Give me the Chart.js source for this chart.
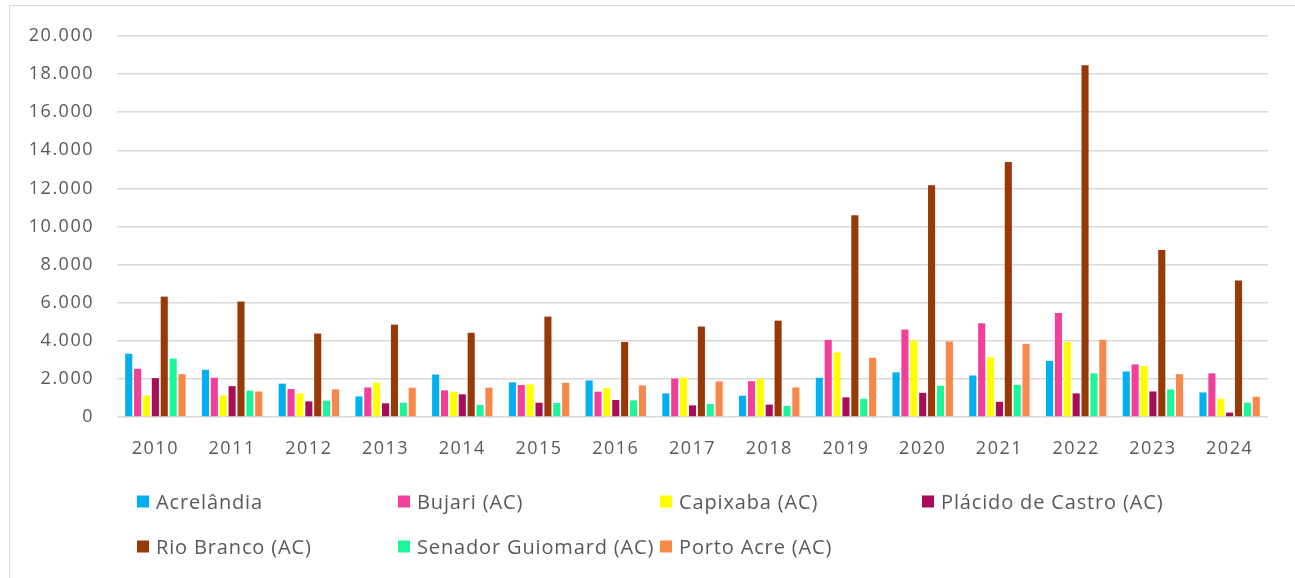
<!DOCTYPE html>
<html>
<head>
<meta charset="utf-8">
<script src="https://cdn.jsdelivr.net/npm/chart.js@4.4.1/dist/chart.umd.min.js"></script>
<style>
  html, body { margin: 0; padding: 0; background: #fff; width: 1295px; height: 578px; overflow: hidden; }
  #frame { position: absolute; left: 9px; top: 5px; width: 1400px; height: 700px;
           border-left: 1.5px solid #d9d9d9; border-top: 1.5px solid #d9d9d9; }
  #chart { position: absolute; left: 0; top: 0; }
  #legend { position: absolute; left: 0; top: 0; width: 1295px; height: 578px; pointer-events: none;
            font-family: "Open Sans", sans-serif; font-size: 20px; letter-spacing: 0.85px; color: #595959; }
  .li { position: absolute; display: flex; align-items: center; white-space: nowrap; transform: translateY(-50%); }
  .li .box { width: 12px; height: 12px; margin-right: 7px; flex: none; }
</style>
</head>
<body>
<div id="frame"></div>
<canvas id="chart" width="1295" height="471"></canvas>
<div id="legend"></div>
<script>
const years = ['2010','2011','2012','2013','2014','2015','2016','2017','2018','2019','2020','2021','2022','2023','2024'];
const yTickLabels = ['0','2.000','4.000','6.000','8.000','10.000','12.000','14.000','16.000','18.000','20.000'];

const seriesNames = ['Acrelândia','Bujari (AC)','Capixaba (AC)','Plácido de Castro (AC)','Rio Branco (AC)','Senador Guiomard (AC)','Porto Acre (AC)'];
const seriesColors = ['#00B0F0','#F2409A','#FFFF00','#A80D58','#983A08','#1DF59A','#F7884A'];

const acrelandia       = [3320,2480,1750,1080,2230,1820,1920,1240,1120,2060,2340,2180,2950,2390,1290];
const bujari           = [2530,2060,1470,1550,1400,1680,1330,2020,1880,4050,4590,4920,5460,2760,2290];
const capixaba         = [1130,1130,1240,1800,1330,1710,1520,2060,1990,3390,4010,3140,3940,2670,960];
const placidoDeCastro  = [2040,1620,820,720,1190,750,890,610,650,1030,1270,800,1240,1340,230];
const rioBranco        = [6320,6060,4380,4850,4420,5270,3940,4750,5060,10590,12160,13390,18460,8760,7160];
const senadorGuiomard  = [3070,1380,860,750,630,730,870,680,590,960,1640,1690,2290,1450,750];
const portoAcre        = [2250,1340,1450,1540,1540,1800,1660,1870,1550,3110,3960,3840,4050,2250,1060];

const seriesValues = [acrelandia, bujari, capixaba, placidoDeCastro, rioBranco, senadorGuiomard, portoAcre];

const datasets = seriesNames.map((name, i) => ({
  label: name,
  data: seriesValues[i],
  backgroundColor: seriesColors[i],
  borderWidth: 0,
  categoryPercentage: 0.81,
  barPercentage: 0.8
}));

// letter-spaced axis text (the original font is wide and airy)
const spacingPlugin = {
  id: 'spacing',
  beforeInit: c => { c.ctx.letterSpacing = '1.5px'; },
  beforeUpdate: c => { c.ctx.letterSpacing = '1.5px'; },
  beforeDraw: c => { c.ctx.letterSpacing = '1.5px'; }
};

const FONT = '"Open Sans", sans-serif';
const chart = new Chart(document.getElementById('chart'), {
  type: 'bar',
  data: { labels: years, datasets },
  plugins: [spacingPlugin],
  options: {
    responsive: false,
    animation: false,
    layout: { padding: { top: 36, right: 27, left: 0, bottom: 0 } },
    plugins: { legend: { display: false }, tooltip: { enabled: false } },
    scales: {
      x: {
        grid: { display: false, drawTicks: false },
        border: { display: false },
        ticks: { color: '#595959', font: { family: FONT, size: 18 }, padding: 21, maxRotation: 0 },
        afterFit: s => { s.height = 54; }
      },
      y: {
        min: 0, max: 20000,
        ticks: {
          stepSize: 2000,
          color: '#595959',
          font: { family: FONT, size: 18 },
          padding: 23,
          callback: (v, i) => yTickLabels[i]
        },
        grid: { color: '#d9d9d9', lineWidth: 1.5, drawTicks: false },
        border: { display: false },
        afterFit: s => { s.width = 117; }
      }
    }
  }
});

// HTML legend laid out in columns, generated from the chart's datasets
const legendEl = document.getElementById('legend');
const colX = [137, 398, 660, 922];
const rowY = [501, 546];
chart.data.datasets.forEach((ds, i) => {
  const item = document.createElement('div');
  item.className = 'li';
  const r = Math.floor(i / 4), c = i % 4;
  item.style.left = colX[c] + 'px';
  item.style.top = rowY[r] + 'px';
  const box = document.createElement('span');
  box.className = 'box';
  box.style.background = ds.backgroundColor;
  const txt = document.createElement('span');
  txt.textContent = ds.label;
  item.appendChild(box);
  item.appendChild(txt);
  legendEl.appendChild(item);
});
</script>
</body>
</html>
